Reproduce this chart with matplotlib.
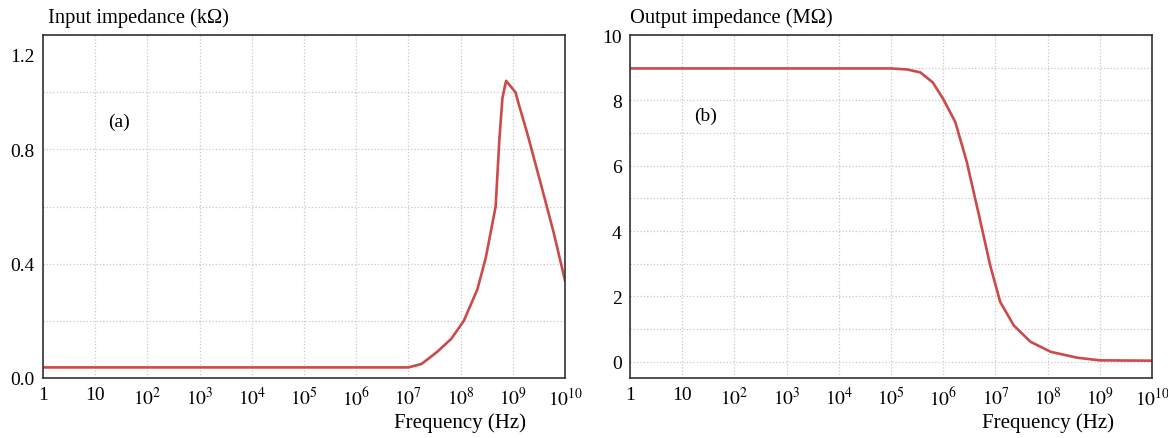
import numpy as np
import matplotlib.pyplot as plt
import matplotlib.transforms as mtransforms

plt.rcParams["font.family"] = ["Liberation Serif", "DejaVu Serif"]
plt.rcParams["mathtext.fontset"] = "stix"

# (a) input impedance, kOhm vs log10(frequency)
in_logf = [0, 7.0, 7.25, 7.54, 7.82, 8.06, 8.32, 8.48, 8.67, 8.74, 8.80, 8.87,
           9.05, 9.11, 9.27, 9.52, 9.78, 10.0]
in_z = [0.037, 0.037, 0.049, 0.09, 0.137, 0.20, 0.31, 0.42, 0.60, 0.83, 0.98, 1.04,
        1.00, 0.96, 0.86, 0.69, 0.51, 0.34]

# (b) output impedance, MOhm vs log10(frequency)
out_logf = [0, 5.0, 5.3, 5.56, 5.8, 6.0, 6.23, 6.45, 6.70, 6.90, 7.09, 7.35, 7.67,
            8.06, 8.57, 9.0, 10.0]
out_z = [8.98, 8.98, 8.95, 8.86, 8.55, 8.04, 7.34, 6.12, 4.37, 2.94, 1.83, 1.11, 0.61,
         0.30, 0.12, 0.04, 0.03]

xticks = [10.0 ** k for k in range(11)]
xlabels = ["1", "10"] + [r"$10^{%d}$" % k for k in range(2, 11)]

fig = plt.figure(figsize=(11.68, 4.39), dpi=100)
ax1 = fig.add_axes([0.0368, 0.1367, 0.447, 0.781])
ax2 = fig.add_axes([0.5394, 0.1367, 0.447, 0.781])

red = "#cc4a4a"
ax1.plot(10 ** np.array(in_logf), in_z, color=red, lw=1.9)
ax2.plot(10 ** np.array(out_logf), out_z, color=red, lw=1.9)

for ax in (ax1, ax2):
    ax.set_xscale("log")
    ax.set_xlim(1, 1e10)
    ax.set_xticks(xticks)
    ax.set_xticklabels(xlabels)
    ax.xaxis.set_minor_locator(plt.NullLocator())
    ax.tick_params(length=0, labelsize=14, pad=6)
    ax.grid(True, which="major", color="#c8c8c8", ls=":", lw=0.9)
    for s in ax.spines.values():
        s.set_color("#333333")
        s.set_linewidth(1.2)

ax1.set_ylim(0, 1.2)
ax1.set_yticks(np.arange(0, 1.21, 0.2))
ax1.set_yticklabels(["0.0", "", "0.4", "", "0.8", "", "1.2"])
# top label sits a little below the frame in the original
lab = ax1.get_yticklabels()[-1]
lab.set_transform(lab.get_transform() + mtransforms.ScaledTranslation(0, -0.19, fig.dpi_scale_trans))

ax2.set_ylim(-0.5, 10)
ax2.set_yticks(np.arange(0, 11, 1))
ax2.set_yticklabels(["0", "", "2", "", "4", "", "6", "", "8", "", "10"])

ax1.text(28, 0.9, "(a)", fontsize=14, ha="center", va="center")
ax2.text(28, 7.55, "(b)", fontsize=14, ha="center", va="center")

fig.text(48 / 1168, 1 - 18 / 439, "Input impedance (k\u03a9)", fontsize=14.8, va="center")
fig.text(630 / 1168, 1 - 18 / 439, "Output impedance (M\u03a9)", fontsize=14.8, va="center")
fig.text(460 / 1168, 1 - 423 / 439, "Frequency (Hz)", fontsize=15, ha="center", va="center")
fig.text(1048 / 1168, 1 - 423 / 439, "Frequency (Hz)", fontsize=15, ha="center", va="center")

fig.savefig("out.png", dpi=100, facecolor="white")
